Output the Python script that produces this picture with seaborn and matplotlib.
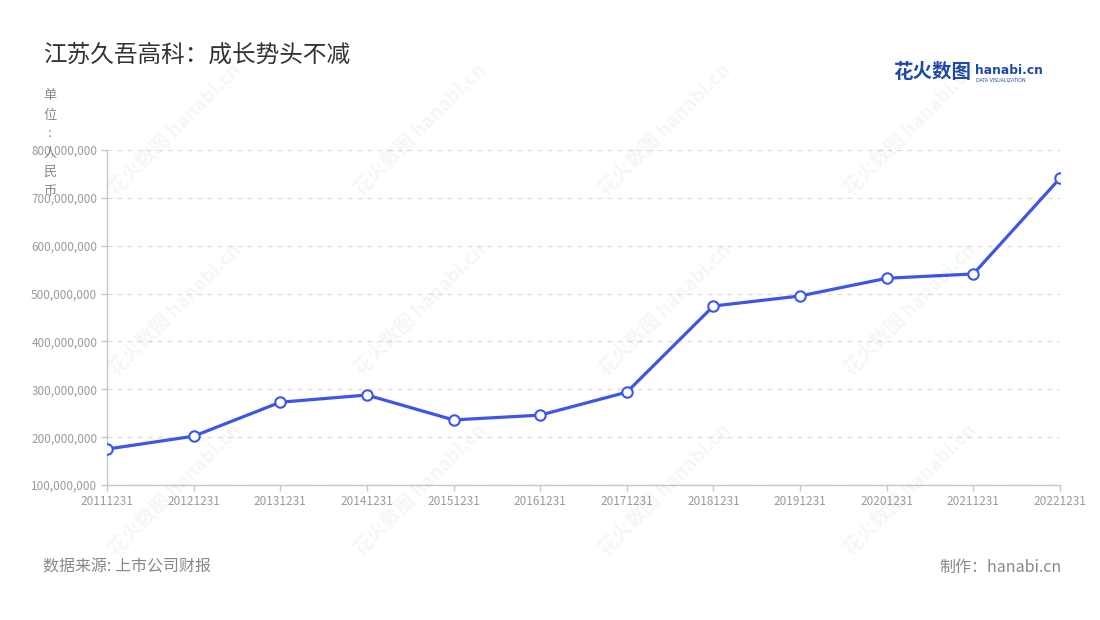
import matplotlib
matplotlib.use("Agg")
import matplotlib.pyplot as plt
import seaborn as sns
import pandas as pd
from matplotlib.ticker import FuncFormatter

dates = ["20111231", "20121231", "20131231", "20141231", "20151231", "20161231",
         "20171231", "20181231", "20191231", "20201231", "20211231", "20221231"]
revenue = [175e6, 202e6, 273e6, 288e6, 236e6, 246e6, 294e6, 474e6, 495e6, 532e6, 541e6, 741e6]

title = "江苏久吾高科：成长势头不减"
unit_label = "单位:人民币"
source = "数据来源: 上市公司财报"
maker = "制作：hanabi.cn"

sns.set_theme(style="white")
plt.rcParams['font.family'] = ['Noto Sans CJK SC', 'DejaVu Sans']

df = pd.DataFrame({"idx": range(len(dates)), "date": dates, "value": revenue})

fig = plt.figure(figsize=(11, 6.2), dpi=100)
ax = fig.add_axes([107/1100, 1-485/620, (1060-107)/1100, (485-150)/620])

# watermarks
for wx in [175, 420, 665, 910]:
    for wy in [130, 310, 490]:
        fig.text(wx/1100, 1-wy/620, "花火数图 hanabi.cn", rotation=45, ha="center", va="center",
                 fontsize=14, color="#000000", alpha=0.04, fontweight="bold", zorder=0)

line_color = "#3d56e8"
sns.lineplot(data=df, x="idx", y="value", ax=ax, color=line_color, linewidth=2.3,
             marker="o", markersize=7.5, markerfacecolor="white", markeredgecolor=line_color,
             markeredgewidth=1.5, zorder=5)

ax.set_xlim(0, len(dates)-1)
ax.set_ylim(100e6, 800e6)
ax.set_yticks([i*100e6 for i in range(1, 9)])
ax.yaxis.set_major_formatter(FuncFormatter(lambda v, p: f"{int(v):,}"))
ax.set_xticks(range(len(dates)))
ax.set_xticklabels(dates)
ax.set_xlabel("")
ax.set_ylabel("")

ax.grid(axis="y", linestyle=(0, (4, 4)), color="#dddddd", linewidth=0.9)
ax.grid(axis="x", visible=False)
for s in ["top", "right"]:
    ax.spines[s].set_visible(False)
for s in ["left", "bottom"]:
    ax.spines[s].set_color("#c8c8c8")
    ax.spines[s].set_linewidth(1.0)
ax.tick_params(axis="both", which="major", length=4, width=1, color="#c8c8c8",
               labelsize=8.5, labelcolor="#9a9a9a", pad=3, left=True, bottom=True)

fig.text(43/1100, 1-55/620, title, fontsize=17, color="#333333", ha="left", va="center")

# unit label, stacked vertically
for i, ch in enumerate(unit_label):
    fig.text(50/1100, 1-(96 + i*19)/620, ch, fontsize=9.5, color="#888888", ha="center", va="center")

fig.text(43/1100, 1-567/620, source, fontsize=11.5, color="#888888", ha="left", va="center")
fig.text(1062/1100, 1-567/620, maker, fontsize=11.5, color="#888888", ha="right", va="center")

# logo
fig.text(893/1100, 1-73/620, "花火数图", fontsize=14, color="#1f4aa8", fontweight="bold",
         ha="left", va="center")
fig.text(975/1100, 1-70/620, "hanabi.cn", fontsize=8.8, color="#1f4aa8", fontweight="bold",
         ha="left", va="center", family=["DejaVu Sans"])
fig.text(976/1100, 1-80/620, "DATA VISUALIZATION", fontsize=3.4, color="#1f4aa8",
         ha="left", va="center", family=["DejaVu Sans"])

fig.savefig("out.png", dpi=100)
